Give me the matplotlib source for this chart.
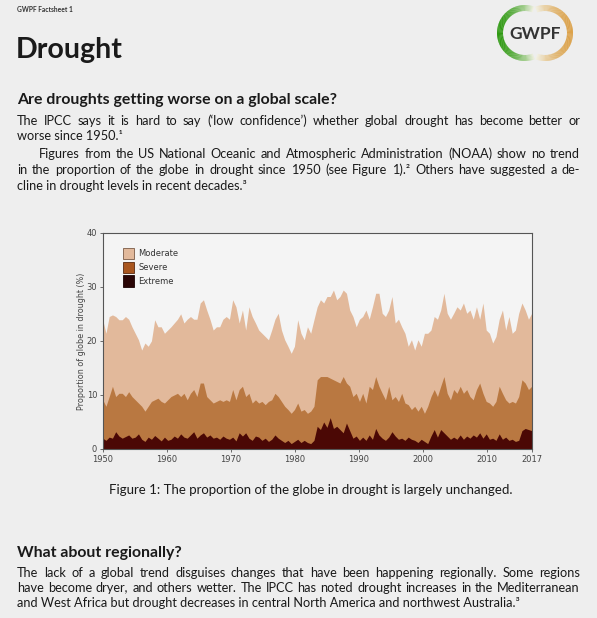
import numpy as np
import matplotlib
matplotlib.use("Agg")
import matplotlib.pyplot as plt
from matplotlib.patches import Patch, Wedge
import matplotlib.colors as mcolors

# ---------------- data (percent of globe in drought, cumulative) ----------------
moderate = [23.9, 21.4, 24.5, 24.8, 24.5, 23.9, 23.9, 24.5, 24.0, 22.6,
            21.4, 20.2, 18.3, 19.6, 19.0, 20.0, 23.9, 22.6, 22.6, 21.4,
            22.0, 22.6, 23.3, 24.0, 25.0, 23.3, 24.0, 24.5, 24.0, 24.0,
            27.0, 27.6, 25.7, 24.0, 22.0, 22.6, 22.6, 24.0, 24.5, 24.0,
            27.6, 26.3, 23.3, 25.7, 22.0, 26.3, 24.5, 23.3, 22.0, 21.4,
            20.8, 20.2, 22.0, 24.0, 25.1, 22.0, 20.2, 19.0, 17.7, 19.0,
            23.9, 21.4, 20.2, 22.6, 21.4, 23.9, 26.3, 27.6, 27.0, 28.2,
            28.2, 29.4, 27.6, 28.2, 29.4, 28.8, 25.7, 24.5, 22.6, 24.0,
            24.5, 25.7, 24.0, 26.3, 28.8, 28.8, 25.1, 24.5, 25.7, 28.2,
            23.3, 24.0, 22.6, 21.4, 19.0, 20.2, 18.3, 20.2, 19.0, 21.4,
            21.4, 22.0, 24.5, 24.0, 25.7, 28.8, 25.1, 24.0, 25.1, 26.3,
            25.7, 27.0, 25.1, 25.7, 24.0, 26.3, 24.0, 27.0, 22.0, 21.4,
            19.6, 20.8, 24.0, 25.7, 22.0, 24.5, 21.4, 22.0, 25.1, 27.0,
            25.7, 24.0, 25.1]

severe = [9.1, 7.9, 9.7, 11.6, 9.7, 10.3, 10.3, 9.7, 10.6, 9.7,
          9.1, 8.5, 7.9, 7.0, 7.9, 8.8, 9.1, 9.4, 8.8, 8.5,
          9.1, 9.7, 10.0, 10.3, 9.7, 10.3, 9.1, 10.3, 11.0, 9.7,
          12.2, 12.2, 9.7, 9.1, 8.5, 8.8, 9.1, 8.8, 9.1, 8.8,
          11.0, 9.1, 11.0, 11.6, 9.7, 10.3, 8.5, 9.1, 8.5, 8.8,
          8.2, 8.8, 9.1, 10.3, 9.7, 8.8, 7.9, 7.3, 6.6, 7.3,
          8.5, 7.0, 7.3, 6.6, 7.0, 7.9, 12.8, 13.4, 13.4, 13.4,
          13.1, 12.8, 12.5, 12.2, 13.4, 12.2, 11.6, 9.7, 10.3, 8.8,
          10.3, 8.5, 11.6, 11.0, 13.4, 11.6, 10.3, 9.1, 11.6, 9.1,
          9.7, 8.8, 10.3, 8.5, 8.2, 7.3, 7.9, 7.0, 7.9, 6.6,
          7.9, 9.7, 11.0, 9.7, 11.6, 13.4, 10.3, 9.1, 11.0, 10.3,
          11.6, 10.3, 11.0, 9.7, 9.1, 11.0, 12.2, 10.3, 8.8, 8.5,
          7.9, 8.8, 11.6, 10.3, 9.1, 8.5, 8.8, 8.5, 9.7, 12.8,
          12.2, 11.0, 11.6]

extreme = [2.0, 1.6, 2.2, 2.0, 3.2, 2.4, 2.0, 2.3, 2.6, 2.0,
           2.2, 2.8, 1.8, 1.4, 2.2, 1.8, 2.5, 2.0, 1.5, 2.2,
           1.6, 1.8, 2.4, 2.0, 2.8, 2.2, 2.0, 2.6, 3.2, 2.0,
           2.6, 3.0, 2.2, 2.6, 2.0, 2.2, 1.8, 2.4, 2.0, 1.8,
           2.2, 1.5, 3.0, 2.4, 3.0, 2.0, 1.6, 2.4, 2.2, 1.6,
           2.0, 1.4, 1.8, 2.6, 2.0, 1.6, 1.2, 1.6, 1.0, 1.4,
           1.8, 1.2, 1.6, 1.2, 1.0, 1.6, 4.2, 3.6, 5.0, 4.0,
           5.8, 3.8, 4.2, 3.6, 3.0, 4.8, 3.4, 2.0, 2.4, 1.6,
           2.2, 1.6, 2.6, 1.8, 3.8, 2.6, 2.0, 1.6, 2.2, 3.2,
           2.4, 1.8, 2.0, 1.6, 2.2, 1.8, 1.6, 1.2, 1.8, 1.4,
           1.0, 2.4, 3.6, 2.2, 3.6, 3.0, 2.4, 1.8, 2.2, 1.8,
           2.6, 1.8, 2.4, 2.0, 2.6, 2.2, 3.0, 2.0, 2.8, 1.8,
           2.0, 1.6, 2.8, 1.8, 2.2, 1.6, 1.8, 1.4, 1.6, 3.4,
           3.8, 3.6, 3.4]

years = np.linspace(1950, 2017, len(moderate))
xticks = [1950, 1960, 1970, 1980, 1990, 2000, 2010, 2017]
yticks = [0, 10, 20, 30, 40]

c_mod, c_sev, c_ext = "#e2b99b", "#b97841", "#4b0805"
page_bg = "#eeeeee"
txt = "#1a1a1a"
W, H = 597, 618

fig = plt.figure(figsize=(W / 100, H / 100), dpi=100)
fig.patch.set_facecolor(page_bg)

# page layer in pixel coordinates
bg = fig.add_axes([0, 0, 1, 1])
bg.set_xlim(0, W)
bg.set_ylim(H, 0)
bg.axis("off")

body = dict(family="Lato", fontsize=9.2, color=txt, va="center", ha="left")
head = dict(family="Lato", fontsize=11.4, fontweight="bold", color=txt, va="center", ha="left")
renderer = fig.canvas.get_renderer()


def justified(x0, y, line, x1=580):
    # place the words of one line so that the line fills x0..x1
    words = line.split(" ")
    items = [bg.text(0, y, w, **body) for w in words]
    widths = [t.get_window_extent(renderer).width for t in items]
    gap = (x1 - x0 - sum(widths)) / (len(words) - 1)
    x = x0
    for t, w in zip(items, widths):
        t.set_x(x)
        x += w + gap


bg.text(17, 9, "GWPF Factsheet 1", family="Lato", fontsize=4.8, fontweight="bold", color="#333333", va="center")
bg.text(16, 50, "Drought", family="Lato", fontsize=20.6, fontweight="bold", color=txt, va="center")

# logo: green ring on the left, gold ring on the right, both fading out at the ends
green = np.array(mcolors.to_rgb("#2f9a12"))
gold = np.array(mcolors.to_rgb("#dca24a"))
pale = np.array(mcolors.to_rgb("#f2f1e2"))
for a in range(70, 290, 2):
    t = min(1.0, abs(a - 180) / 110.0) ** 2.5
    col = green + (pale - green) * t
    bg.add_patch(Wedge((525, 33), 28, -a - 2.5, -a, width=6, facecolor=col, edgecolor="none"))
for a in range(-110, 110, 2):
    t = min(1.0, abs(a) / 110.0) ** 2.5
    col = gold + (pale - gold) * t
    bg.add_patch(Wedge((545, 33), 28, -a - 2.5, -a, width=6, facecolor=col, edgecolor="none"))
bg.text(535, 34, "GWPF", family="Lato", fontsize=12.5, fontweight="bold", color="#333333", ha="center", va="center")

bg.text(17, 100, "Are droughts getting worse on a global scale?", **head)
justified(17, 121, "The IPCC says it is hard to say (\u2018low confidence\u2019) whether global drought has become better or")
bg.text(17, 136, "worse since 1950.\u00b9", **body)
justified(39, 154, "Figures from the US National Oceanic and Atmospheric Administration (NOAA) show no trend")
justified(17, 170, "in the proportion of the globe in drought since 1950 (see Figure 1).\u00b2 Others have suggested a de-")
bg.text(17, 186, "cline in drought levels in recent decades.\u00b3", **body)

bg.text(311, 490, "Figure 1: The proportion of the globe in drought is largely unchanged.",
        family="Lato", fontsize=9.5, color=txt, ha="center", va="center")

bg.text(17, 553, "What about regionally?", **head)
justified(17, 573, "The lack of a global trend disguises changes that have been happening regionally. Some regions")
justified(17, 588, "have become dryer, and others wetter. The IPCC has noted drought increases in the Mediterranean")
bg.text(17, 603, "and West Africa but drought decreases in central North America and northwest Australia.\u00b3", **body)

# ---------------- chart ----------------
ax = fig.add_axes([102.7 / W, 1 - 449 / H, 429 / W, 216.3 / H])
ax.set_facecolor("#f4f4f4")
ax.fill_between(years, 0, moderate, color=c_mod, lw=0)
ax.fill_between(years, 0, severe, color=c_sev, lw=0)
ax.fill_between(years, 0, extreme, color=c_ext, lw=0)

ax.set_xlim(1950, 2017)
ax.set_ylim(0, 40)
ax.set_xticks(xticks)
ax.set_yticks(yticks)
ax.tick_params(labelsize=6, labelcolor="#444444", color="#555555", length=2.5, width=0.6, pad=1.5)
for s in ax.spines.values():
    s.set_color("#555555")
    s.set_linewidth(0.8)
ax.set_ylabel("Proportion of globe in drought (%)", fontsize=5.8, color="#444444", labelpad=0.5)

handles = [Patch(facecolor=c_mod, edgecolor="#7a5a45", lw=0.6, label="Moderate"),
           Patch(facecolor="#a9561f", edgecolor="#5a2a10", lw=0.6, label="Severe"),
           Patch(facecolor="#2a0505", edgecolor="#1a0000", lw=0.6, label="Extreme")]
leg = ax.legend(handles=handles, loc="upper left", bbox_to_anchor=(0.03, 0.965), frameon=False,
                fontsize=6, handlelength=1.3, handleheight=1.7, handletextpad=0.5, labelspacing=0.3)
for t in leg.get_texts():
    t.set_color("#333333")

fig.savefig("out.png", dpi=100, facecolor=page_bg)
